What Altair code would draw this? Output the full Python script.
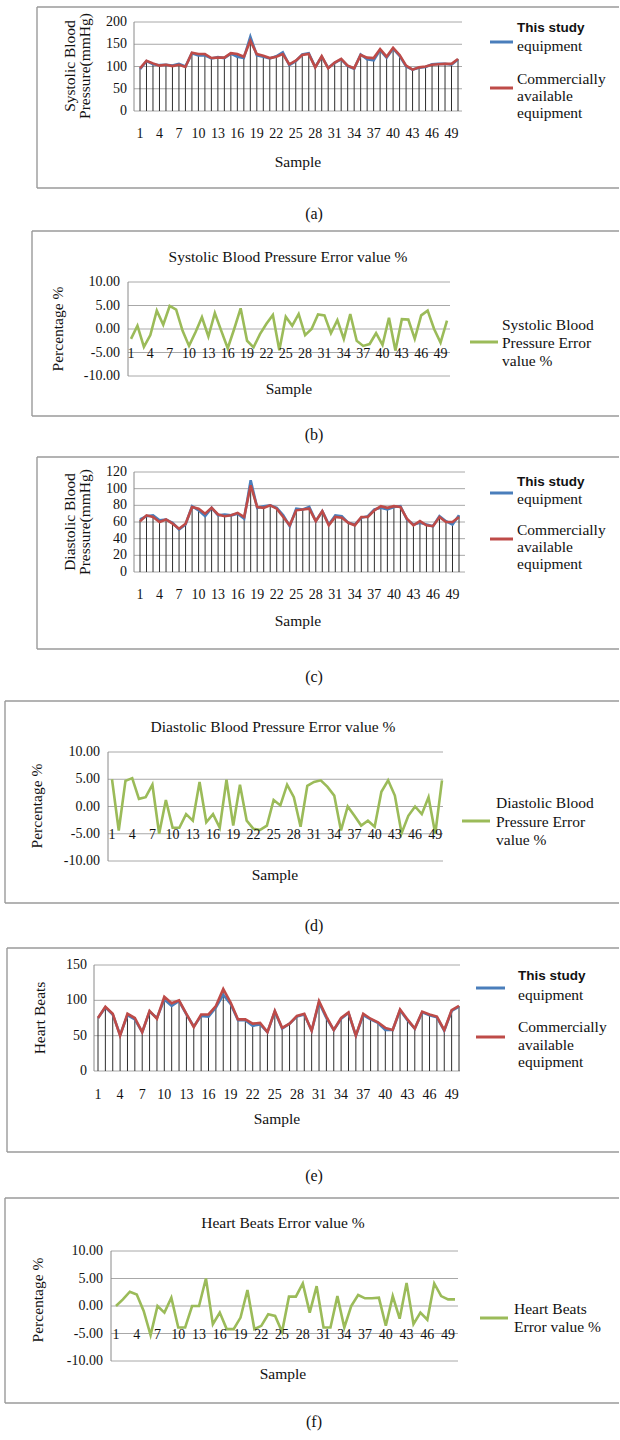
import altair as alt
import pandas as pd

samples = list(range(1, 51))
xtick_samples = [1, 4, 7, 10, 13, 16, 19, 22, 25, 28, 31, 34, 37, 40, 43, 46, 49]

# (a) Systolic blood pressure (mmHg)
sys_this = [94, 112, 105, 103, 104, 102, 106, 100, 130, 125, 125, 118, 121, 119, 129, 122, 119, 167, 125, 122,
            118, 123, 132, 103, 112, 127, 130, 99, 122, 97, 108, 116, 101, 95, 127, 116, 114, 137, 120, 140,
            124, 100, 93, 97, 99, 105, 106, 106, 104, 116]
sys_comm = [96, 113, 107, 102, 104, 101, 104, 99, 131, 128, 128, 119, 120, 120, 130, 128, 122, 158, 128, 124,
            119, 122, 128, 105, 113, 126, 128, 98, 123, 96, 109, 117, 102, 96, 126, 120, 119, 139, 122, 142,
            126, 102, 93, 98, 100, 104, 105, 106, 106, 117]
# (b) Systolic error %
sys_err = [-2.1, 0.7, -3.8, -1.3, 3.9, 0.9, 4.9, 4.1, -0.4, -3.6, -0.7, 2.5, -1.6, 3.4, -0.4, -4.1, 0.0, 4.4, -2.5, -3.9,
           -1.1, 1.1, 3.0, -4.5, 2.6, 0.7, 3.2, -1.3, 0.0, 3.1, 2.9, -0.9, 1.9, -2.1, 3.2, -2.5, -3.6, -3.2, -0.9, -3.4,
           2.4, -4.6, 2.1, 2.0, -2.1, 2.9, 3.9, 0.0, -2.9, 1.8]
# (c) Diastolic blood pressure (mmHg)
dia_this = [63, 67, 68, 62, 63, 59, 51, 57, 79, 74, 67, 77, 68, 69, 68, 70, 64, 110, 77, 79,
            80, 77, 68, 55, 76, 75, 78, 61, 73, 57, 68, 67, 59, 57, 65, 67, 75, 77, 75, 78,
            79, 63, 57, 59, 57, 55, 67, 61, 57, 68]
dia_comm = [61, 68, 66, 60, 63, 58, 52, 58, 78, 76, 70, 77, 69, 67, 68, 71, 66, 104, 78, 77,
            80, 76, 66, 56, 74, 75, 76, 61, 73, 56, 66, 65, 59, 56, 66, 66, 74, 79, 77, 79,
            78, 64, 56, 61, 56, 55, 66, 60, 60, 66]
# (d) Diastolic error %
dia_err = [5.0, -4.4, 4.7, 5.2, 1.4, 1.7, 4.0, -5.0, 1.2, -3.9, -3.9, -1.4, -2.6, 4.5, -2.9, -1.4, -3.9, 4.9, -3.5, 4.0,
           -2.6, -4.1, -4.3, -3.5, 1.2, 0.2, 4.0, 1.7, -3.7, 3.8, 4.5, 4.8, 3.6, 2.0, -4.4, 0.0, -1.7, -3.5, -2.6, -3.7,
           2.7, 4.8, 2.0, -4.9, -1.7, 0.0, -1.4, 1.7, -5.0, 4.8]
# (e) Heart beats
hb_this = [75, 90, 80, 51, 79, 73, 55, 84, 75, 101, 92, 99, 80, 63, 78, 77, 90, 108, 95, 72,
           72, 64, 66, 55, 84, 60, 67, 77, 80, 57, 97, 75, 58, 74, 82, 50, 79, 73, 68, 58,
           58, 86, 72, 60, 83, 79, 76, 57, 85, 91]
hb_comm = [75, 91, 81, 50, 81, 75, 55, 85, 74, 105, 96, 100, 81, 62, 80, 80, 92, 116, 97, 73,
           73, 67, 68, 55, 85, 61, 67, 78, 81, 57, 99, 77, 58, 75, 83, 50, 81, 74, 69, 61,
           58, 87, 73, 60, 84, 80, 77, 58, 86, 92]
# (f) Heart beats error %
hb_err = [0.0, 1.2, 2.6, 2.1, -0.9, -5.3, 0.0, -1.2, 1.5, -3.9, -3.9, 0.0, 0.0, 5.0, -3.3, -1.2, -4.2, -4.2, -2.1, 2.9,
          -4.2, -3.6, -1.5, -1.8, -4.7, 1.7, 1.7, 4.1, -1.2, 3.6, -3.9, -3.9, 1.8, -3.9, 0.0, 2.0, 1.4, 1.4, 1.5, -3.6,
          1.8, -2.3, 4.2, -3.3, -1.2, -2.5, 4.1, 1.8, 1.2, 1.2]

err_ticks = [10, 5, 0, -5, -10]
err_labels = ["10.00", "5.00", "0.00", "-5.00", "-10.00"]
sys_ticks = [200, 150, 100, 50, 0]
dia_ticks = [120, 100, 80, 60, 40, 20, 0]
hb_ticks = [150, 100, 50, 0]

BLUE = "#4A7EBB"
RED = "#BE4B48"
GREEN = "#9BBB59"
GRID = "#A8A8A8"
FRAME = "#9A9A9A"
AXIS = "#8A8A8A"
DROP = "#2E2E2E"
SERIF = "Liberation Serif"
SANS = "Liberation Sans"

one = pd.DataFrame({"k": [0]})


def txt(text, x, y, size=15, align="center", angle=None, font=SERIF, weight="normal"):
    props = dict(text=text, fontSize=size, align=align, baseline="middle", font=font,
                 fontWeight=weight, color="#111111")
    if angle is not None:
        props["angle"] = angle
    return alt.Chart(one).mark_text(**props).encode(x=alt.value(x), y=alt.value(y))


def hrule(x1, x2, y, color, w):
    return alt.Chart(one).mark_rule(color=color, strokeWidth=w).encode(
        x=alt.value(x1), x2=alt.value(x2), y=alt.value(y))


def vrule(x, y1, y2, color, w):
    return alt.Chart(one).mark_rule(color=color, strokeWidth=w).encode(
        x=alt.value(x), y=alt.value(y1), y2=alt.value(y2))


def panel(sp):
    T = sp["top"]

    def L(y):
        return y - T

    xsc = alt.Scale(domain=[1, 50], range=[sp["x1"], sp["x50"]], nice=False, zero=False)
    ysc = alt.Scale(domain=[sp["ydom"][0], sp["ydom"][1]],
                    range=[L(sp["ypx"][0]), L(sp["ypx"][1])], nice=False, zero=False)
    layers = []
    fl, ft, fb = sp["frame"]
    layers += [vrule(fl, L(ft), L(fb), FRAME, 1.4),
               hrule(fl, 619, L(ft), FRAME, 1.4),
               hrule(fl, 619, L(fb), FRAME, 1.4)]
    gdf = pd.DataFrame({"v": sp["yticks"], "t": sp["ylabels"]})
    layers.append(alt.Chart(gdf).mark_rule(color=GRID, strokeWidth=1).encode(
        y=alt.Y("v:Q", scale=ysc, axis=None),
        x=alt.value(sp["axis_x"]), x2=alt.value(sp["grid_end"])))
    layers.append(vrule(sp["axis_x"], L(sp["ypx"][1]), L(sp["ypx"][0]), AXIS, 1))

    if sp["kind"] == "pair":
        df = pd.DataFrame({"s": samples, "this": sp["this"], "comm": sp["comm"]})
        df["top"] = df[["this", "comm"]].max(axis=1)
        base = alt.Chart(df)
        layers.append(base.mark_rule(color=DROP, strokeWidth=1).encode(
            x=alt.X("s:Q", scale=xsc, axis=None),
            y=alt.Y("top:Q", scale=ysc, axis=None), y2=alt.datum(0)))
        layers.append(base.mark_line(color=BLUE, strokeWidth=2.6).encode(
            x=alt.X("s:Q", scale=xsc, axis=None), y=alt.Y("this:Q", scale=ysc, axis=None)))
        layers.append(base.mark_line(color=RED, strokeWidth=2.6).encode(
            x=alt.X("s:Q", scale=xsc, axis=None), y=alt.Y("comm:Q", scale=ysc, axis=None)))
    else:
        df = pd.DataFrame({"s": samples, "err": sp["err"]})
        layers.append(alt.Chart(df).mark_line(color=GREEN, strokeWidth=2.6).encode(
            x=alt.X("s:Q", scale=xsc, axis=None), y=alt.Y("err:Q", scale=ysc, axis=None)))

    # y tick labels
    layers.append(alt.Chart(gdf).mark_text(align="right", baseline="middle", font=SERIF,
                                           fontSize=14, color="#111111").encode(
        y=alt.Y("v:Q", scale=ysc, axis=None), x=alt.value(sp["ylab_x"]), text="t:N"))
    # x tick labels
    xdf = pd.DataFrame({"s": xtick_samples, "t": [str(v) for v in xtick_samples]})
    if sp["kind"] == "pair":
        ypos = alt.value(L(sp["xlab_y"]))
    else:
        ypos = alt.datum(-5)
    layers.append(alt.Chart(xdf).mark_text(align="center", baseline="middle", font=SERIF,
                                           fontSize=14, color="#111111", dy=1).encode(
        x=alt.X("s:Q", scale=xsc, axis=None), y=ypos, text="t:N"))
    # axis titles
    layers.append(txt("Sample", sp["sample"][0], L(sp["sample"][1]), size=15.5))
    for (t, x, y) in sp["ytitle"]:
        layers.append(txt(t, x, L(y), size=15.5, angle=270))
    if sp.get("title"):
        t, x, y = sp["title"]
        layers.append(txt(t, x, L(y), size=15.5))
    # legend
    for (c, x1, x2, y) in sp["leg_lines"]:
        layers.append(hrule(x1, x2, L(y), c, 3))
    for (t, x, y, bold) in sp["leg_text"]:
        if bold:
            layers.append(txt(t, x, L(y), size=13.5, align="left", font=SANS, weight="bold"))
        else:
            layers.append(txt(t, x, L(y), size=15.5, align="left"))
    # caption
    layers.append(txt(sp["caption"], 314, L(sp["cap_y"]), size=16))
    return alt.layer(*layers).properties(width=620, height=sp["H"])


specs = [
    dict(kind="pair", top=0, H=224, frame=(37, 7, 188), x1=140, x50=458, axis_x=134, grid_end=462,
         ydom=(0, 200), ypx=(111, 22), yticks=sys_ticks, ylabels=[str(v) for v in sys_ticks], ylab_x=127,
         xlab_y=133, sample=(298, 162), this=sys_this, comm=sys_comm,
         ytitle=[("Systolic Blood", 70, 66), ("Pressure(mmHg)", 85, 66)],
         leg_lines=[(BLUE, 490, 513, 42), (RED, 490, 513, 88)],
         leg_text=[("This study", 517, 28, True), ("equipment", 517, 46, False),
                   ("Commercially", 517, 79, False), ("available", 517, 96, False), ("equipment", 517, 113, False)],
         caption="(a)", cap_y=214),
    dict(kind="err", top=224, H=222, frame=(32, 231, 416), x1=131, x50=447, axis_x=128, grid_end=450,
         ydom=(-10, 10), ypx=(376, 282), yticks=err_ticks, ylabels=err_labels, ylab_x=120,
         sample=(289, 389), err=sys_err, title=("Systolic Blood Pressure Error value %", 288, 257),
         ytitle=[("Percentage %", 58, 329)],
         leg_lines=[(GREEN, 470, 498, 342)],
         leg_text=[("Systolic Blood", 502, 325, False), ("Pressure Error", 502, 343, False),
                   ("value %", 502, 361, False)],
         caption="(b)", cap_y=435),
    dict(kind="pair", top=446, H=244, frame=(37, 457, 649), x1=140, x50=459, axis_x=134, grid_end=465,
         ydom=(0, 120), ypx=(572, 472), yticks=dia_ticks, ylabels=[str(v) for v in dia_ticks], ylab_x=127,
         xlab_y=594, sample=(298, 621), this=dia_this, comm=dia_comm,
         ytitle=[("Diastolic Blood", 70, 522), ("Pressure(mmHg)", 85, 522)],
         leg_lines=[(BLUE, 490, 513, 493), (RED, 490, 513, 539)],
         leg_text=[("This study", 517, 482, True), ("equipment", 517, 499, False),
                   ("Commercially", 517, 530, False), ("available", 517, 547, False), ("equipment", 517, 564, False)],
         caption="(c)", cap_y=677),
    dict(kind="err", top=690, H=248, frame=(5, 701, 903), x1=112, x50=442, axis_x=108, grid_end=443,
         ydom=(-10, 10), ypx=(861, 752), yticks=err_ticks, ylabels=err_labels, ylab_x=100,
         sample=(275, 875), err=dia_err, title=("Diastolic Blood Pressure Error value %", 273, 727),
         ytitle=[("Percentage %", 37, 806)],
         leg_lines=[(GREEN, 462, 490, 821)],
         leg_text=[("Diastolic Blood", 496, 803, False), ("Pressure Error", 496, 822, False),
                   ("value %", 496, 840, False)],
         caption="(d)", cap_y=926),
    dict(kind="pair", top=938, H=250, frame=(7, 948, 1152), x1=98, x50=459, axis_x=94, grid_end=460,
         ydom=(0, 150), ypx=(1071, 965), yticks=hb_ticks, ylabels=[str(v) for v in hb_ticks], ylab_x=87,
         xlab_y=1094, sample=(277, 1119), this=hb_this, comm=hb_comm,
         ytitle=[("Heart Beats", 40, 1018)],
         leg_lines=[(BLUE, 476, 505, 988), (RED, 476, 505, 1037)],
         leg_text=[("This study", 518, 976, True), ("equipment", 518, 995, False),
                   ("Commercially", 518, 1027, False), ("available", 518, 1045, False), ("equipment", 518, 1062, False)],
         caption="(e)", cap_y=1176),
    dict(kind="err", top=1188, H=252, frame=(5, 1198, 1403), x1=116, x50=455, axis_x=111, grid_end=458,
         ydom=(-10, 10), ypx=(1361, 1251), yticks=err_ticks, ylabels=err_labels, ylab_x=103,
         sample=(283, 1374), err=hb_err, title=("Heart Beats Error value %", 283, 1223),
         ytitle=[("Percentage %", 38, 1300)],
         leg_lines=[(GREEN, 480, 508, 1318)],
         leg_text=[("Heart Beats", 514, 1309, False), ("Error value %", 514, 1327, False)],
         caption="(f)", cap_y=1422),
]

chart = alt.vconcat(*[panel(s) for s in specs], spacing=0).properties(
    padding=0, background="white"
).configure_view(stroke=None)

chart.save("out.html", embed_options={"renderer": "svg", "actions": False})
